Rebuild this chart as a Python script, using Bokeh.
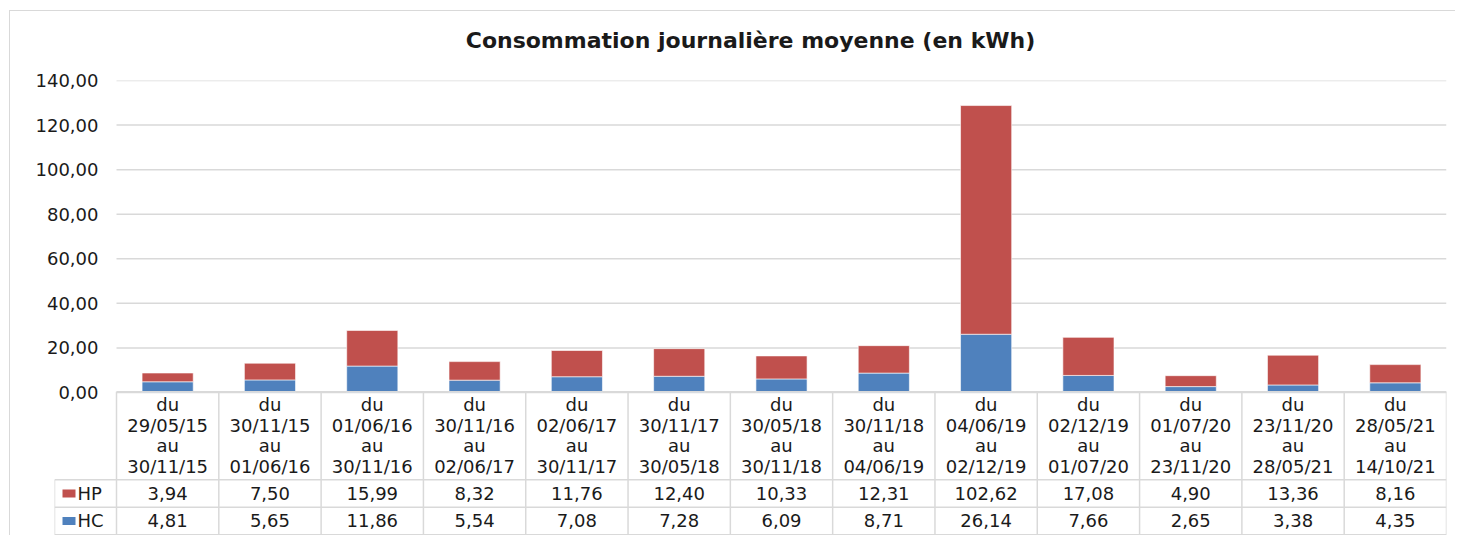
from bokeh.plotting import figure
from bokeh.models import Range1d, FixedTicker, CustomJSTickFormatter, ColumnDataSource, Title
from bokeh.layouts import column
from bokeh.embed import file_html
from bokeh.resources import INLINE
from bokeh.core.properties import value

# ---- data ----
period_start = ["29/05/15", "30/11/15", "01/06/16", "30/11/16", "02/06/17", "30/11/17", "30/05/18",
                "30/11/18", "04/06/19", "02/12/19", "01/07/20", "23/11/20", "28/05/21"]
period_end = ["30/11/15", "01/06/16", "30/11/16", "02/06/17", "30/11/17", "30/05/18", "30/11/18",
              "04/06/19", "02/12/19", "01/07/20", "23/11/20", "28/05/21", "14/10/21"]
hp = [3.94, 7.50, 15.99, 8.32, 11.76, 12.40, 10.33, 12.31, 102.62, 17.08, 4.90, 13.36, 8.16]
hc = [4.81, 5.65, 11.86, 5.54, 7.08, 7.28, 6.09, 8.71, 26.14, 7.66, 2.65, 3.38, 4.35]
y_ticks = [0, 20, 40, 60, 80, 100, 120, 140]
series = ["HP", "HC"]
title_text = "Consommation journalière moyenne (en kWh)"

HP_COLOR = "#C0504D"
HC_COLOR = "#4F81BD"
GRID = "#d9d9d9"
TXT = "#1a1a1a"
FONT = "DejaVu Sans"
FS = "18px"

n = len(period_start)
centers = [i + 0.5 for i in range(n)]

# ---- geometry (page pixels) ----
FIG_X, FIG_Y = 10, 11
FRAME_L, FRAME_R, FRAME_T, FRAME_B = 54, 1446, 80, 535
ZERO_PX = 392          # y pixel of value 0 / top of table
CELL_W = (FRAME_R - 116) / n
L = (116 - FRAME_L) / CELL_W      # legend column width in cell units
HDR_TOP = 5.2                      # table rows: HC 0-1, HP 1-2, header 2-5.2
chart_px_per_unit = (ZERO_PX - FRAME_T) / 140
y_start = -(FRAME_B - ZERO_PX) / chart_px_per_unit
tbl_px_per_unit = (FRAME_B - ZERO_PX) / HDR_TOP
tbl_end = (FRAME_B - FRAME_T) / tbl_px_per_unit

p = figure(width=FRAME_R + 9 - FIG_X, height=FRAME_B - FIG_Y,
           x_range=Range1d(-L, n), y_range=Range1d(y_start, 140),
           output_backend="svg", toolbar_location=None,
           min_border_left=FRAME_L - FIG_X, min_border_right=9,
           min_border_top=FRAME_T - FIG_Y, min_border_bottom=0)
p.extra_y_ranges = {"tbl": Range1d(-0.03, tbl_end - 0.03)}
p.xaxis.visible = False
p.grid.grid_line_color = None
p.outline_line_color = None

# title (a blank spacer title between the frame and the real title lifts it up)
p.add_layout(Title(text=" ", text_font_size="20px", standoff=0), "above")
p.add_layout(Title(text=title_text, align="center", text_font=FONT, text_font_style="bold",
                   text_font_size="22px", text_color=TXT, standoff=8), "above")

# y axis
p.yaxis.ticker = FixedTicker(ticks=y_ticks)
p.yaxis.formatter = CustomJSTickFormatter(code="return tick.toFixed(2).replace('.', ',');")
p.yaxis.axis_line_color = None
p.yaxis.major_tick_line_color = None
p.yaxis.minor_tick_line_color = None
p.yaxis.major_tick_out = 0
p.yaxis.major_tick_in = 0
p.yaxis.major_label_standoff = -(98 - FRAME_L)
p.yaxis.major_label_text_font = FONT
p.yaxis.major_label_text_font_size = FS
p.yaxis.major_label_text_color = TXT

# horizontal gridlines over the category area
p.segment([0] * len(y_ticks), y_ticks, [n] * len(y_ticks), y_ticks, line_color=GRID, line_width=1.5)

# stacked bars
src = ColumnDataSource(dict(x=centers, hc=hc, hp=hp))
p.vbar_stack(["hc", "hp"], x="x", width=0.5, color=[HC_COLOR, HP_COLOR], source=src,
             line_color="white", line_alpha=0.6, line_width=1)

# ---- data table ----
xs0, ys0, xs1, ys1 = [], [], [], []
for yy in [0, 1, 2]:
    xs0.append(-L); xs1.append(n); ys0.append(yy); ys1.append(yy)
xs0.append(0); xs1.append(n); ys0.append(HDR_TOP); ys1.append(HDR_TOP)
for i in range(n + 1):
    xs0.append(i); xs1.append(i); ys0.append(0); ys1.append(HDR_TOP)
xs0.append(-L); xs1.append(-L); ys0.append(0); ys1.append(2)
p.segment(xs0, ys0, xs1, ys1, line_color=GRID, line_width=1.5, y_range_name="tbl")

headers = [f"du\n{a}\nau\n{b}" for a, b in zip(period_start, period_end)]
p.text(centers, [(2 + HDR_TOP) / 2] * n, text=headers, text_align="center", text_baseline="middle",
       text_font=value(FONT), text_font_size=FS, text_color=TXT, text_line_height=0.98,
       y_range_name="tbl")

fmt = lambda v: f"{v:.2f}".replace(".", ",")
p.text(centers, [1.5] * n, text=[fmt(v) for v in hp], text_align="center", text_baseline="middle",
       text_font=value(FONT), text_font_size=FS, text_color=TXT, y_range_name="tbl")
p.text(centers, [0.5] * n, text=[fmt(v) for v in hc], text_align="center", text_baseline="middle",
       text_font=value(FONT), text_font_size=FS, text_color=TXT, y_range_name="tbl")

# legend keys in the table
p.rect([-L + 14.5 / CELL_W] * 2, [1.5, 0.5], width=13, height=8, width_units="screen",
       height_units="screen", color=[HP_COLOR, HC_COLOR], line_color=None, y_range_name="tbl")
p.text([-L + 23 / CELL_W] * 2, [1.5, 0.5], text=series, text_align="left", text_baseline="middle",
       text_font=value(FONT), text_font_size=FS, text_color=TXT, y_range_name="tbl")

layout = column(p, styles={"margin-left": f"{FIG_X - 1}px", "margin-top": f"{FIG_Y - 1}px",
                           "border-top": f"1px solid {GRID}", "border-left": f"1px solid {GRID}"})
open("out.html", "w").write(file_html(layout, INLINE))
